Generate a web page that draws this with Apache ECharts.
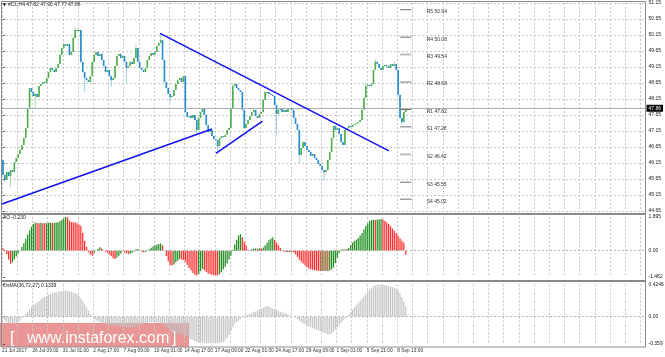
<!DOCTYPE html>
<html><head><meta charset="utf-8">
<script src="https://cdn.jsdelivr.net/npm/echarts@6/dist/echarts.min.js"></script>
<style>html,body{margin:0;padding:0;background:#fff}#c{width:665px;height:357px}</style>
</head><body><div id="c"></div>
<script>
// ---------------- DATA ----------------
const firstOpen = 46.24;
const closes = [45.78,45.62,45.87,45.74,45.93,45.87,46.18,46.31,46.43,46.56,
46.71,46.93,47.24,47.87,48.49,48.37,48.24,48.31,48.21,48.56,
48.62,48.68,48.65,48.81,48.99,49.12,49.06,48.99,49.12,49.24,
49.53,49.74,49.87,49.81,49.87,49.53,49.62,50.06,50.31,50.28,
50.31,49.31,48.99,48.81,48.74,48.68,48.87,49.31,49.53,49.62,
49.49,49.56,49.37,49.18,48.99,49.06,48.87,48.74,48.81,49.18,
49.49,49.56,49.43,49.49,49.31,49.12,49.18,49.31,49.24,49.43,
49.74,49.31,49.12,49.06,48.99,49.12,49.37,49.49,49.59,49.53,
49.62,49.81,49.90,49.99,49.37,48.68,48.49,48.31,48.21,48.24,
48.43,48.62,48.74,48.81,48.68,48.87,47.74,47.59,47.62,47.56,
47.65,47.49,47.18,47.56,47.74,47.87,47.65,47.34,47.12,47.18,
46.99,46.90,46.87,46.68,46.93,46.99,46.96,47.03,47.18,47.24,
47.87,48.56,48.62,48.49,48.43,48.37,47.81,47.24,47.37,47.49,
47.62,47.74,47.81,47.62,47.56,47.68,47.74,48.12,48.37,48.37,
48.31,48.28,48.24,47.96,47.68,47.81,47.87,47.74,47.81,47.74,
47.87,47.87,47.81,47.56,47.37,47.18,46.40,46.62,46.81,46.68,
46.56,46.49,46.37,46.43,46.31,46.24,46.12,46.06,45.93,45.87,
45.93,46.24,46.49,46.93,47.31,47.18,47.24,47.06,46.81,46.71,
47.18,47.24,47.31,47.28,47.34,47.37,47.40,47.43,47.49,47.81,
48.18,48.56,48.59,48.56,48.62,49.06,49.31,49.24,49.12,49.06,
49.18,49.21,49.18,49.12,49.24,49.18,49.24,49.06,48.28,47.56,
47.43,47.74,47.86];
// notable wick extremes [barIndex, price]
const wickHighs = [[38,50.40],[83,50.20],[196,49.40],[206,49.30],[70,49.85],[121,48.65],[191,48.65]];
const wickLows = [[1,45.55],[4,45.40],[17,47.87],[43,48.37],[57,48.53],[65,48.65],[88,48.02],[102,47.09],[113,46.49],[144,47.03],[156,46.15],[169,45.62],[210,47.34]];

const aoValues = [0.13,0.02,-0.2,-0.5,-0.74,-0.65,-0.5,-0.33,-0.15,0.02,
0.2,0.42,0.65,0.9,1.15,1.35,1.5,1.58,1.56,1.55,
1.57,1.55,1.54,1.56,1.57,1.58,1.56,1.57,1.59,1.6,
1.66,1.74,1.82,1.9,1.88,1.7,1.62,1.6,1.58,1.54,
1.47,1.4,1.0,0.56,0.22,-0.08,-0.2,-0.28,-0.15,0.0,
0.1,0.19,0.12,0.02,-0.06,-0.1,-0.2,-0.32,-0.42,-0.47,
-0.38,-0.28,-0.16,-0.03,-0.1,-0.15,-0.19,-0.17,-0.12,-0.05,
0.06,0.09,0.02,-0.06,-0.09,-0.08,-0.02,0.08,0.16,0.24,
0.3,0.34,0.38,0.41,0.3,0.02,-0.3,-0.6,-0.8,-0.84,
-0.78,-0.66,-0.55,-0.47,-0.5,-0.52,-0.62,-0.8,-0.98,-1.12,
-1.25,-1.35,-1.4,-1.3,-1.15,-1.02,-1.1,-1.2,-1.28,-1.33,
-1.36,-1.38,-1.4,-1.4,-1.32,-1.2,-1.05,-0.9,-0.72,-0.5,
-0.28,0.05,0.35,0.62,0.85,0.93,0.75,0.5,0.3,0.05,
0.02,0.08,0.11,0.12,0.1,0.13,0.12,0.18,0.3,0.45,
0.58,0.68,0.74,0.6,0.45,0.3,0.15,0.02,-0.06,-0.08,
-0.07,-0.09,-0.08,-0.1,-0.2,-0.35,-0.5,-0.62,-0.72,-0.82,
-0.93,-1.0,-1.05,-1.08,-1.1,-1.12,-1.13,-1.15,-1.14,-1.15,
-1.13,-1.15,-1.12,-1.05,-0.95,-0.7,-0.4,-0.15,0.05,0.08,
0.06,0.1,0.15,0.3,0.45,0.55,0.62,0.72,0.85,1.0,
1.2,1.4,1.55,1.67,1.72,1.74,1.72,1.75,1.76,1.78,
1.75,1.68,1.6,1.5,1.38,1.25,1.12,1.0,0.85,0.7,
0.56,0.46,-0.23];

const osmaValues = [-0.03,-0.05,-0.07,-0.08,-0.08,-0.085,-0.085,-0.08,-0.07,-0.05,
-0.02,0.01,0.04,0.07,0.1,0.13,0.15,0.17,0.19,0.21,
0.23,0.25,0.26,0.27,0.29,0.3,0.31,0.32,0.32,0.33,
0.335,0.34,0.34,0.34,0.34,0.335,0.33,0.32,0.31,0.3,
0.27,0.24,0.2,0.16,0.12,0.08,0.04,0.0,-0.03,-0.05,
-0.06,-0.07,-0.08,-0.09,-0.1,-0.1,-0.11,-0.11,-0.12,-0.12,
-0.12,-0.125,-0.13,-0.13,-0.135,-0.14,-0.14,-0.14,-0.14,-0.135,
-0.13,-0.12,-0.11,-0.1,-0.09,-0.08,-0.08,-0.07,-0.07,-0.065,
-0.07,-0.075,-0.08,-0.08,-0.09,-0.11,-0.13,-0.15,-0.17,-0.19,
-0.2,-0.21,-0.22,-0.22,-0.23,-0.24,-0.25,-0.26,-0.28,-0.3,
-0.31,-0.32,-0.33,-0.335,-0.34,-0.345,-0.345,-0.35,-0.35,-0.35,
-0.35,-0.35,-0.35,-0.35,-0.345,-0.34,-0.33,-0.31,-0.28,-0.24,
-0.19,-0.14,-0.1,-0.07,-0.05,-0.03,-0.01,0.01,0.02,0.03,
0.04,0.05,0.06,0.07,0.08,0.09,0.1,0.12,0.13,0.14,
0.13,0.12,0.11,0.1,0.09,0.08,0.07,0.06,0.05,0.04,
0.03,0.02,0.01,0.0,-0.01,-0.03,-0.05,-0.07,-0.09,-0.1,
-0.12,-0.13,-0.14,-0.15,-0.16,-0.17,-0.18,-0.19,-0.2,-0.21,
-0.22,-0.23,-0.23,-0.22,-0.2,-0.17,-0.14,-0.11,-0.08,-0.05,
-0.03,0.0,0.03,0.06,0.09,0.12,0.15,0.18,0.21,0.24,
0.27,0.3,0.33,0.36,0.38,0.4,0.41,0.42,0.42,0.425,
0.42,0.415,0.41,0.405,0.4,0.39,0.38,0.37,0.35,0.31,
0.26,0.2,0.134];

const timeLabels = ['21 Jul 2017','26 Jul 09:00','31 Jul 01:00','2 Aug 17:00','7 Aug 09:00','10 Aug 01:00','14 Aug 17:00','17 Aug 09:00','22 Aug 01:00','24 Aug 17:00','29 Aug 09:00','1 Sep 01:00','5 Sep 21:00','8 Sep 13:00'];
const labelEvery = 16;

const pivotNames = ['R5','R4','R3','R2','R1','S1','S2','S3','S4'];
const pivotValues = [50.94,50.08,49.54,48.68,47.82,47.28,46.42,45.55,45.02];
const pivotFromBar = 209, pivotToBar = 215, pivotLabelBar = 223;

// trend lines: [[bar, price],[bar, price]]
const trendLine1 = [[-0.5,44.87],[110.0,47.21]];
const trendLine2 = [[82.7,50.20],[203.2,46.53]];
const trendLine3 = [[112.1,46.45],[136.6,47.46]];

const currentPrice = 47.86;
const titleText = '#CL,H4 47.82 47.90 47.77 47.86';
const aoTitle = 'AO -0.230';
const osmaTitle = 'OsMA(36,72,27) 0.1339';
const priceMin = 44.65, priceMax = 51.15, priceStep = 0.5;
const aoTicks = [-1.482, 0, 1.895], aoTickLabels = ['-1.482','0.00','1.895'];
const osmaTicks = [-0.359, 0, 0.4246], osmaTickLabels = ['-0.359','0.00','0.4246'];

// ---------------- CHART ----------------
const FONT = 'Liberation Sans';
const FS = 5;
const GRIDC = '#c6c6c6';
const chart = echarts.init(document.getElementById('c'), null, {renderer:'canvas', width:665, height:357});

const hiMap = {}; wickHighs.forEach(([i,v]) => hiMap[i] = v);
const loMap = {}; wickLows.forEach(([i,v]) => loMap[i] = v);
const candleData = closes.map((c,i) => {
  const o = i === 0 ? firstOpen : closes[i-1];
  const h = Math.max(o, c, hiMap[i] != null ? hiMap[i] : -Infinity);
  const l = Math.min(o, c, loMap[i] != null ? loMap[i] : Infinity);
  return [i, o, c, l, h];
});
const AO_UP = '#1f8f1f', AO_DN = '#ff2e2e';
const aoData = aoValues.map((v,i) => ({value:[i,v], itemStyle:{color:(i>0 && v>aoValues[i-1]) ? AO_UP : AO_DN}}));
const osmaData = osmaValues.map((v,i) => [i,v]);
const pivotData = pivotValues.map((v,i) => [i, v]);
const pivotStyle = {R4:{c:'#a0a0a0',w:1.6}, R3:{c:'#bdbdbd',w:2}, S2:{c:'#bdbdbd',w:2}};

const X_MIN = -0.5, X_MAX = 338.2;
function xAxis(gi, withLabels){
  return {type:'value', gridIndex:gi, min:X_MIN, max:X_MAX, interval:8,
    axisLine:{show:false}, axisTick:{show:false},
    splitLine:{show:true, lineStyle:{color:GRIDC, type:[2,2], width:1}},
    axisLabel: withLabels ? {show:true, fontSize:4.8, fontFamily:FONT, color:'#333', align:'left', margin:4,
      formatter: v => { const idx = Math.round(v); if (Math.abs(idx % labelEvery) === 0) { const k = Math.abs(idx/labelEvery); return k < timeLabels.length ? timeLabels[k] : ''; } return ''; }} : {show:false}
  };
}
function pickLabel(ticks, labels){
  return v => { let best = 0; for (let k=1;k<ticks.length;k++) if (Math.abs(ticks[k]-v) < Math.abs(ticks[best]-v)) best = k; return labels[best]; };
}

const option = {
  animation:false,
  backgroundColor:'#ffffff',
  grid:[
    {left:2, top:3, width:643.5, height:208, outerBoundsMode:'none'},
    {left:2, top:217, width:643.5, height:60, outerBoundsMode:'none'},
    {left:2, top:284.5, width:643.5, height:59.5, outerBoundsMode:'none'}
  ],
  xAxis:[xAxis(0,false), xAxis(1,false), xAxis(2,true)],
  yAxis:[
    {type:'value', gridIndex:0, position:'right', min:priceMin, max:priceMax, interval:priceStep,
      axisLine:{show:false}, axisTick:{show:true, length:2, lineStyle:{color:'#555'}},
      axisLabel:{fontSize:FS, fontFamily:FONT, color:'#222', margin:3, formatter:v => v.toFixed(2)},
      splitLine:{show:true, lineStyle:{color:GRIDC, type:[2,2], width:1}}},
    {type:'value', gridIndex:1, position:'right', min:aoTicks[0], max:aoTicks[2],
      axisLine:{show:false}, axisTick:{show:true, length:2, customValues:aoTicks, lineStyle:{color:'#555'}},
      axisLabel:{fontSize:FS, fontFamily:FONT, color:'#222', margin:3, customValues:aoTicks, formatter:pickLabel(aoTicks, aoTickLabels)},
      splitLine:{show:false}},
    {type:'value', gridIndex:2, position:'right', min:osmaTicks[0], max:osmaTicks[2],
      axisLine:{show:false}, axisTick:{show:true, length:2, customValues:osmaTicks, lineStyle:{color:'#555'}},
      axisLabel:{fontSize:FS, fontFamily:FONT, color:'#222', margin:3, customValues:osmaTicks, formatter:pickLabel(osmaTicks, osmaTickLabels)},
      splitLine:{show:false}}
  ],
  series:[
    {type:'line', xAxisIndex:0, yAxisIndex:0, data:[], silent:true,
      markLine:{silent:true, symbol:'none', data:[{yAxis:currentPrice}],
        lineStyle:{color:'#a7b0b9', type:'solid', width:1},
        label:{show:true, position:'end', formatter:currentPrice.toFixed(2), backgroundColor:'#000', color:'#fff', fontSize:FS, fontFamily:FONT, padding:[1,2,1,2], distance:1}}},
    {type:'custom', name:'candles', xAxisIndex:0, yAxisIndex:0, data:candleData, encode:{x:0, y:[1,2,3,4]}, clip:true, z:3,
      renderItem:(params, api) => {
        const i = api.value(0), o = api.value(1), c = api.value(2), l = api.value(3), h = api.value(4);
        const po = api.coord([i,o]), pc = api.coord([i,c]), pl = api.coord([i,l]), ph = api.coord([i,h]);
        const up = c >= o;
        const x = po[0];
        const top = Math.min(po[1], pc[1]);
        const bh = Math.max(Math.abs(po[1]-pc[1]), 1.2);
        return {type:'group', children:[
          {type:'rect', shape:{x:x-0.5, y:ph[1], width:1, height:Math.max(pl[1]-ph[1],1)}, style:{fill: up ? '#a9dca3' : '#9dcdea'}},
          {type:'rect', shape:{x:x-0.8, y:top, width:1.6, height:bh}, style:{fill: up ? '#4cae4c' : '#2489cf'}}
        ]};
      }},
    {type:'custom', name:'pivots', xAxisIndex:0, yAxisIndex:0, data:pivotData, encode:{x:-1, y:1}, z:4,
      renderItem:(params, api) => {
        const v = api.value(1); const name = pivotNames[params.dataIndex];
        const a = api.coord([pivotFromBar, v]), b = api.coord([pivotToBar, v]), t = api.coord([pivotLabelBar, v]);
        const st = pivotStyle[name] || {c:'#6f6f6f', w:1};
        return {type:'group', children:[
          {type:'line', shape:{x1:a[0], y1:a[1], x2:b[0], y2:b[1]}, style:{stroke:st.c, lineWidth:st.w}},
          {type:'text', style:{x:t[0], y:t[1]+2, text:name+' '+v.toFixed(2), fill:'#333', fontSize:FS, fontFamily:FONT, verticalAlign:'middle', align:'left'}}
        ]};
      }},
    {type:'line', xAxisIndex:0, yAxisIndex:0, data:trendLine1, symbol:'none', silent:true, z:5, lineStyle:{color:'#1212ee', width:1.6}},
    {type:'line', xAxisIndex:0, yAxisIndex:0, data:trendLine2, symbol:'none', silent:true, z:5, lineStyle:{color:'#1212ee', width:1.6}},
    {type:'line', xAxisIndex:0, yAxisIndex:0, data:trendLine3, symbol:'none', silent:true, z:5, lineStyle:{color:'#1212ee', width:1.6}},
    {type:'bar', name:'AO', xAxisIndex:1, yAxisIndex:1, data:aoData, barWidth:1.25, silent:true,
      markLine:{silent:true, symbol:'none', data:[{yAxis:0}], lineStyle:{color:'#b8b8b8', type:[2,2], width:1}, label:{show:false}}},
    {type:'bar', name:'OsMA', xAxisIndex:2, yAxisIndex:2, data:osmaData, barWidth:1.15, silent:true, itemStyle:{color:'#c2c2c2'},
      markLine:{silent:true, symbol:'none', data:[{yAxis:0}], lineStyle:{color:'#b8b8b8', type:[2,2], width:1}, label:{show:false}}}
  ],
  graphic:[
    {type:'rect', z:50, silent:true, shape:{x:1.5, y:1.5, width:644, height:345.5}, style:{fill:'none', stroke:'#8a8a8a', lineWidth:1}},
    {type:'line', z:50, silent:true, shape:{x1:1.5, y1:214, x2:645.5, y2:214}, style:{stroke:'#8a8a8a', lineWidth:2}},
    {type:'line', z:50, silent:true, shape:{x1:1.5, y1:281, x2:645.5, y2:281}, style:{stroke:'#8a8a8a', lineWidth:2}},
    {type:'text', z:50, silent:true, style:{x:3, y:5, text:'▼', fontSize:4, fontFamily:'DejaVu Sans', fill:'#111', verticalAlign:'middle'}},
    {type:'text', z:50, silent:true, style:{x:8, y:5, text:titleText, fontSize:FS, fontFamily:FONT, fill:'#222', verticalAlign:'middle'}},
    {type:'text', z:50, silent:true, style:{x:3, y:218, text:aoTitle, fontSize:FS, fontFamily:FONT, fill:'#222', verticalAlign:'middle'}},
    {type:'text', z:50, silent:true, style:{x:3, y:285.5, text:osmaTitle, fontSize:FS, fontFamily:FONT, fill:'#222', verticalAlign:'middle'}},
    {type:'group', z:100, silent:true, children:[
      {type:'rect', shape:{x:0, y:323, width:189, height:24}, style:{fill:'rgba(214,46,46,0.5)'}},
      {type:'text', style:{x:10, y:339, text:'[', fontSize:16, fontFamily:FONT, fill:'#ffffff', verticalAlign:'middle'}},
      {type:'text', style:{x:27, y:339, text:'www.instaforex.com', fontSize:16, fontFamily:FONT, fill:'#ffffff', verticalAlign:'middle'}},
      {type:'text', style:{x:172, y:339, text:']', fontSize:16, fontFamily:FONT, fill:'#ffffff', verticalAlign:'middle'}}
    ]}
  ]
};
chart.setOption(option);
</script>
</body></html>
